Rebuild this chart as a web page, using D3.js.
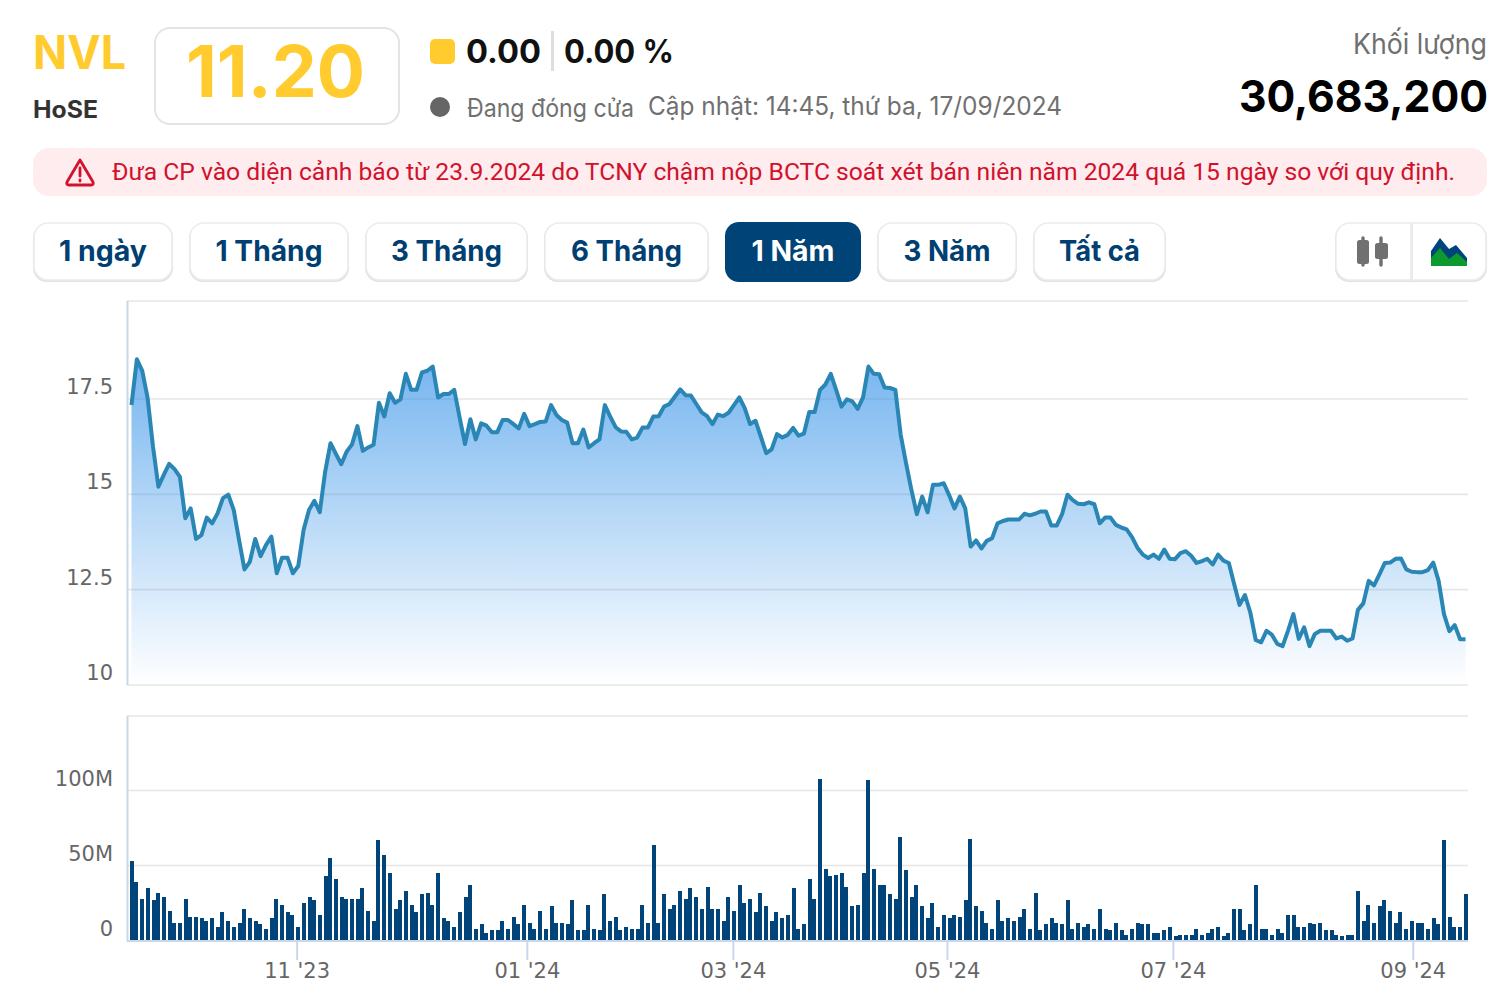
<!DOCTYPE html>
<html>
<head>
<meta charset="utf-8">
<title>NVL</title>
<script src="https://cdn.jsdelivr.net/npm/d3@7"></script>
<style>
  html, body { margin: 0; padding: 0; background: #fff; }
  svg { display: block; font-family: Inter, Roboto, sans-serif; }
  .axis text { font-family: "DejaVu Sans", sans-serif; font-size: 21px; fill: #666; }
</style>
</head>
<body>
<svg id="chart"></svg>
<script>
const priceValues = [
  17.34, 18.54, 18.24, 17.52, 16.25, 15.20, 15.51, 15.80, 15.66, 15.46,
  14.37, 14.63, 13.83, 13.93, 14.39, 14.24, 14.50, 14.90, 14.99, 14.59,
  13.80, 13.03, 13.23, 13.83, 13.38, 13.67, 13.89, 12.93, 13.34, 13.34,
  12.93, 13.12, 14.07, 14.59, 14.83, 14.53, 15.59, 16.34, 16.06, 15.79,
  16.12, 16.31, 16.79, 16.14, 16.23, 16.30, 17.40, 17.04, 17.65, 17.40,
  17.49, 18.16, 17.74, 17.74, 18.20, 18.24, 18.35, 17.54, 17.63, 17.63,
  17.74, 17.02, 16.32, 16.97, 16.44, 16.86, 16.80, 16.63, 16.63, 16.95,
  16.95, 16.84, 16.73, 17.11, 16.79, 16.84, 16.90, 16.91, 17.34, 17.08,
  16.95, 16.88, 16.34, 16.34, 16.70, 16.23, 16.34, 16.44, 17.34, 17.04,
  16.76, 16.65, 16.64, 16.44, 16.49, 16.75, 16.75, 17.04, 17.05, 17.30,
  17.37, 17.56, 17.75, 17.60, 17.59, 17.37, 17.15, 17.05, 16.84, 17.09,
  17.05, 17.14, 17.34, 17.54, 17.26, 16.84, 16.93, 16.51, 16.08, 16.18,
  16.58, 16.49, 16.56, 16.74, 16.54, 16.59, 17.16, 17.16, 17.74, 17.88,
  18.16, 17.74, 17.30, 17.49, 17.44, 17.24, 17.54, 18.35, 18.16, 18.15,
  17.80, 17.79, 17.74, 16.56, 15.81, 15.11, 14.48, 14.94, 14.53, 15.25,
  15.25, 15.29, 14.98, 14.63, 14.94, 14.63, 13.63, 13.79, 13.58, 13.78,
  13.85, 14.24, 14.30, 14.34, 14.34, 14.34, 14.49, 14.45, 14.49, 14.55,
  14.55, 14.18, 14.18, 14.48, 14.99, 14.85, 14.75, 14.74, 14.79, 14.74,
  14.24, 14.39, 14.39, 14.20, 14.13, 14.08, 13.88, 13.60, 13.42, 13.33,
  13.42, 13.31, 13.55, 13.31, 13.30, 13.46, 13.51, 13.39, 13.20, 13.25,
  13.31, 13.16, 13.42, 13.26, 13.20, 12.64, 12.10, 12.36, 11.90, 11.18,
  11.12, 11.42, 11.32, 11.08, 11.02, 11.42, 11.86, 11.21, 11.51, 11.02,
  11.34, 11.42, 11.42, 11.42, 11.22, 11.27, 11.16, 11.22, 11.97, 12.14,
  12.73, 12.61, 12.90, 13.20, 13.21, 13.31, 13.32, 13.03, 12.97, 12.96,
  12.96, 13.01, 13.21, 12.73, 11.86, 11.41, 11.57, 11.20, 11.20
]

// millions of shares
const volumeValues = [
  53, 38.7, 28, 34.7, 26.7, 32, 29.3, 20, 12, 12,
  28, 16, 16, 14.7, 13.3, 14.7, 9.3, 18.7, 13.3, 9.3,
  12, 21.3, 14.7, 13.3, 10.7, 8, 14.7, 28, 24, 18.7,
  17.3, 9.3, 25.3, 29.3, 26.7, 17.3, 42.7, 54.7, 41.3, 29.3,
  28, 28, 28, 34.7, 20, 13.3, 66.7, 57.3, 45.3, 21.3,
  26.7, 33.3, 24, 18.7, 30.7, 32, 24, 45.3, 14.7, 13.3,
  9.3, 18.7, 29.3, 37.3, 8, 10.7, 5.3, 6.7, 6.7, 13.3,
  8, 16, 10.7, 24, 12, 8, 20, 8, 22.7, 12,
  12, 10.7, 26.7, 6.7, 6.7, 24, 8, 6.7, 30.7, 13.3,
  16, 6.7, 9.3, 8, 8, 24, 12, 64, 12, 30.7,
  21.3, 24, 33.3, 28, 34.7, 29.3, 21.3, 36, 21.3, 21.3,
  13.3, 29.3, 20, 37.3, 25.3, 28, 18.7, 32, 22.7, 13.3,
  18.7, 14.7, 17.3, 34.7, 8, 10.7, 41.3, 28, 108, 48,
  42.7, 44, 45.3, 36, 22.7, 24, 45.3, 106.7, 48, 37.3,
  37.3, 30.7, 28, 69.3, 46.7, 29.3, 37.3, 22.7, 14.7, 25.3,
  9.3, 17.3, 14.7, 17.3, 16, 26.7, 68, 22.7, 20, 12,
  8, 26.7, 13.3, 14.7, 13.3, 16, 21.3, 8, 32, 6.7,
  10.7, 14.7, 12, 10.7, 26.7, 8, 12, 9.3, 10.7, 8,
  21.3, 8, 6.7, 12, 6.7, 4, 8, 12, 10.7, 10.7,
  5.3, 5.3, 6.7, 9.3, 2.7, 4, 4, 4, 8, 4,
  5.3, 8, 9.3, 2.7, 5.3, 21.3, 21.3, 6.7, 10.7, 37.3,
  8, 8, 4, 8, 5.3, 17.3, 17.3, 9.3, 9.3, 12,
  10.7, 12, 6.7, 6.7, 4, 2.7, 4, 4, 33.3, 13.3,
  24, 12, 22.7, 26.7, 20, 12, 18.7, 8, 13.3, 12,
  12, 8, 14.7, 10.7, 66.7, 16, 9.3, 9.3, 30.7
]

const priceTicks = [10, 12.5, 15, 17.5]
const volumeTicks = [0, 50, 100]
const monthLabels = ["11 '23", "01 '24", "03 '24", "05 '24", "07 '24", "09 '24"]
const monthPositions = [30.7, 73.5, 111.8, 151.6, 193.6, 238.2]
const rangeLabels = ["1 ngày", "1 Tháng", "3 Tháng", "6 Tháng", "1 Năm", "3 Năm", "Tất cả"]
const activeRange = "1 Năm"

const width = 1508, height = 994
const yellow = "#ffcb2e", navy = "#00447a", red = "#d2112c", grey = "#707070"

const svg = d3.select("#chart")
    .attr("width", width)
    .attr("height", height)
    .attr("viewBox", [0, 0, width, height])

const defs = svg.append("defs")
const grad = defs.append("linearGradient")
    .attr("id", "areaFill")
    .attr("x1", 0).attr("y1", 0).attr("x2", 0).attr("y2", 1)
grad.append("stop").attr("offset", 0).attr("stop-color", "#2f8fe8").attr("stop-opacity", 0.66)
grad.append("stop").attr("offset", 1).attr("stop-color", "#2f8fe8").attr("stop-opacity", 0)

// ---- header ----
function label(text, x, y, size, weight, fill, anchor, len) {
  const t = svg.append("text")
      .attr("x", x)
      .attr("y", y)
      .attr("font-size", size)
      .attr("font-weight", weight)
      .attr("fill", fill)
      .attr("text-anchor", anchor || "start")
      .text(text)
  if (len) t.attr("textLength", len).attr("lengthAdjust", "spacingAndGlyphs")
  return t
}

label("NVL", 33, 69, 47, 700, yellow, "start", 93)
label("HoSE", 33, 118, 24, 700, "#333", "start", 65)

svg.append("rect")
    .attr("x", 155).attr("y", 28).attr("width", 244).attr("height", 96).attr("rx", 15)
    .attr("fill", "#fff").attr("stroke", "#e4e4e4").attr("stroke-width", 2)
label("11.20", 186, 96.5, 71, 700, yellow, "start", 179)

svg.append("rect")
    .attr("x", 430).attr("y", 39).attr("width", 25).attr("height", 25).attr("rx", 5)
    .attr("fill", yellow)
label("0.00", 466, 62.5, 32, 700, "#111", "start", 75)
svg.append("rect")
    .attr("x", 551).attr("y", 31).attr("width", 3).attr("height", 40).attr("fill", "#dedede")
label("0.00 %", 564, 62.5, 32, 700, "#111", "start", 110)

svg.append("circle").attr("cx", 440).attr("cy", 107).attr("r", 10).attr("fill", "#666")
label("Đang đóng cửa", 467, 116.5, 25, 400, grey, "start", 167)
label("Cập nhật: 14:45, thứ ba, 17/09/2024", 648, 115, 25, 400, grey, "start", 414)

label("Khối lượng", 1487, 53.5, 28, 400, grey, "end", 134)
label("30,683,200", 1488, 111.5, 44, 700, "#000", "end", 249)

// ---- warning strip ----
svg.append("rect")
    .attr("x", 33).attr("y", 148).attr("width", 1454).attr("height", 48).attr("rx", 16)
    .attr("fill", "#feecee")
svg.append("path")
    .attr("d", "M80 160 L93 182 Q94 185 91 185 L69 185 Q66 185 67 182 Z")
    .attr("fill", "none").attr("stroke", red).attr("stroke-width", 2.8).attr("stroke-linejoin", "round")
svg.append("path")
    .attr("d", "M80 168 V176 M80 180 V181")
    .attr("stroke", red).attr("stroke-width", 2.8).attr("stroke-linecap", "round")
label("Đưa CP vào diện cảnh báo từ 23.9.2024 do TCNY chậm nộp BCTC soát xét bán niên năm 2024 quá 15 ngày so với quy định.",
    112, 180, 24.5, 400, red, "start", 1343)
    .attr("font-family", "Roboto, sans-serif")

// ---- range buttons ----
const btnLeft = [33, 189, 365, 544, 725, 877, 1033]
const btnRight = [173, 349, 528, 709, 861, 1017, 1166]
const btnTextWidth = [88, 107, 111, 111, 83, 87, 81]
rangeLabels.forEach((name, i) => {
  const x = btnLeft[i], w = btnRight[i] - btnLeft[i], on = name === activeRange
  if (!on) {
    svg.append("rect")
        .attr("x", x).attr("y", 224).attr("width", w).attr("height", 58).attr("rx", 14)
        .attr("fill", "#e2e2e2")
  }
  svg.append("rect")
      .attr("x", x + (on ? 0 : 1)).attr("y", on ? 222 : 223)
      .attr("width", w - (on ? 0 : 2)).attr("height", on ? 60 : 57).attr("rx", 14)
      .attr("fill", on ? "#004377" : "#fff")
      .attr("stroke", on ? "none" : "#ececec").attr("stroke-width", 1.5)
  label(name, x + w / 2, 261, 29, 700, on ? "#fff" : "#003f72", "middle", btnTextWidth[i])
})

// chart type toggle
svg.append("rect")
    .attr("x", 1335).attr("y", 224).attr("width", 152).attr("height", 58).attr("rx", 14).attr("fill", "#e2e2e2")
svg.append("rect")
    .attr("x", 1336).attr("y", 223).attr("width", 150).attr("height", 57).attr("rx", 14)
    .attr("fill", "#fff").attr("stroke", "#ececec").attr("stroke-width", 1.5)
svg.append("rect").attr("x", 1410).attr("y", 223).attr("width", 3).attr("height", 58).attr("fill", "#ebebeb")
svg.append("path")
    .attr("d", "M1363 238 V265 M1381 238 V265")
    .attr("stroke", grey).attr("stroke-width", 3.4).attr("stroke-linecap", "round")
svg.append("rect").attr("x", 1357).attr("y", 240).attr("width", 12).attr("height", 24).attr("rx", 2.5).attr("fill", grey)
svg.append("rect").attr("x", 1375).attr("y", 243).attr("width", 13).attr("height", 16).attr("rx", 2.5).attr("fill", grey)
svg.append("path")
    .attr("d", "M1431 251 L1440 238 L1449 249 L1456 245 L1467 258 V266 H1431 Z")
    .attr("fill", navy)
svg.append("path")
    .attr("d", "M1431 258 L1440 248 L1449 259 L1457 253 L1467 262 V266 H1431 Z")
    .attr("fill", "#0c9a2e")

// ---- scales ----
const x = d3.scaleLinear().domain([0, priceValues.length - 1]).range([131.5, 1465.5])
const yPrice = d3.scaleLinear().domain([10, 17.5]).range([685, 399])
const yVolume = d3.scaleLinear().domain([0, 100]).range([940.5, 790.5])

// ---- grid ----
const gridColor = "#e6e6e6", axisColor = "#ccd6eb"

function grid(ticks, scale) {
  svg.append("g")
      .attr("stroke", gridColor)
      .attr("stroke-width", 1.6)
    .selectAll("line")
    .data(ticks)
    .join("line")
      .attr("x1", 127)
      .attr("x2", 1468)
      .attr("y1", d => scale(d))
      .attr("y2", d => scale(d))
}
grid(priceTicks, yPrice)
grid(volumeTicks.slice(1), yVolume)
svg.append("path")
    .attr("d", "M127 301 H1468 M127 716 H1468")
    .attr("stroke", gridColor).attr("stroke-width", 1.6)

// ---- price pane ----
const area = d3.area()
    .x((d, i) => x(i))
    .y0(yPrice(10))
    .y1(d => yPrice(d))
const line = d3.line()
    .x((d, i) => x(i))
    .y(d => yPrice(d))

svg.append("path")
    .attr("fill", "url(#areaFill)")
    .attr("d", area(priceValues))
svg.append("path")
    .attr("fill", "none")
    .attr("stroke", "#2a86b4")
    .attr("stroke-width", 4)
    .attr("stroke-linejoin", "round")
    .attr("d", line(priceValues))

// ---- volume pane ----
svg.append("g")
    .attr("fill", navy)
    .attr("shape-rendering", "crispEdges")
  .selectAll("rect")
  .data(volumeValues)
  .join("rect")
    .attr("x", (d, i) => Math.round((x(i) - 2) / 2) * 2)
    .attr("width", 4)
    .attr("y", d => yVolume(d))
    .attr("height", d => yVolume(0) - yVolume(d))

// ---- axes ----
svg.append("path")
    .attr("d", "M127.5 301 V685 M127.5 716 V941")
    .attr("stroke", axisColor).attr("stroke-width", 2)

const priceAxis = d3.axisLeft(yPrice)
    .tickValues(priceTicks)
    .tickFormat(d => d)
    .tickSize(0)
    .tickPadding(0)
svg.append("g")
    .attr("class", "axis")
    .attr("transform", "translate(113,0)")
    .call(priceAxis)
    .call(g => g.select(".domain").remove())
    .call(g => g.selectAll("text").attr("dy", "-0.26em"))

const volumeAxis = d3.axisLeft(yVolume)
    .tickValues(volumeTicks)
    .tickFormat(d => d === 0 ? "0" : d + "M")
    .tickSize(0)
    .tickPadding(0)
svg.append("g")
    .attr("class", "axis")
    .attr("transform", "translate(113,0)")
    .call(volumeAxis)
    .call(g => g.select(".domain").remove())
    .call(g => g.selectAll("text").attr("dy", "-0.22em"))

const monthAxis = d3.axisBottom(x)
    .tickValues(monthPositions)
    .tickFormat((d, i) => monthLabels[i])
    .tickSize(19)
    .tickSizeOuter(0)
    .tickPadding(3)
svg.append("g")
    .attr("class", "axis")
    .attr("transform", "translate(0,941)")
    .call(monthAxis)
    .call(g => g.select(".domain").attr("d", "M127,0H1468").attr("stroke", axisColor).attr("stroke-width", 2))
    .call(g => g.selectAll(".tick line").attr("stroke", axisColor).attr("stroke-width", 2))
</script>
</body>
</html>
